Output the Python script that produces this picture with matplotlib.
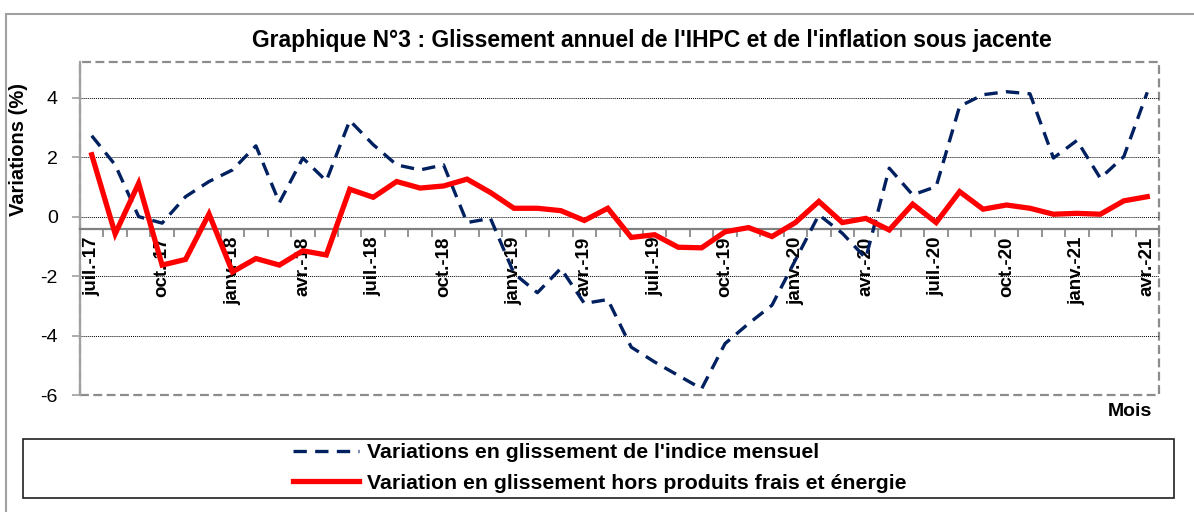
import matplotlib
matplotlib.use('Agg')
import matplotlib.pyplot as plt
from matplotlib.patches import Rectangle
import numpy as np

plt.rcParams['font.family'] = ['Liberation Sans', 'DejaVu Sans']

# Données (juil.-17 -> avr.-21)
mois = ['juil.-17', 'août-17', 'sept.-17', 'oct.-17', 'nov.-17', 'déc.-17',
        'janv.-18', 'févr.-18', 'mars-18', 'avr.-18', 'mai-18', 'juin-18',
        'juil.-18', 'août-18', 'sept.-18', 'oct.-18', 'nov.-18', 'déc.-18',
        'janv.-19', 'févr.-19', 'mars-19', 'avr.-19', 'mai-19', 'juin-19',
        'juil.-19', 'août-19', 'sept.-19', 'oct.-19', 'nov.-19', 'déc.-19',
        'janv.-20', 'févr.-20', 'mars-20', 'avr.-20', 'mai-20', 'juin-20',
        'juil.-20', 'août-20', 'sept.-20', 'oct.-20', 'nov.-20', 'déc.-20',
        'janv.-21', 'févr.-21', 'mars-21', 'avr.-21']

ihpc = [2.72, 1.74, 0.0, -0.22, 0.67, 1.18, 1.57, 2.38, 0.47, 1.97, 1.2, 3.23,
        2.42, 1.74, 1.57, 1.74, -0.2, -0.06, -1.91, -2.56, -1.74, -2.92, -2.79, -4.39,
        -4.89, -5.34, -5.79, -4.27, -3.6, -2.98, -1.46, 0.06, -0.56, -1.4, 1.63, 0.73,
        1.01, 3.71, 4.1, 4.2, 4.13, 1.97, 2.56, 1.29, 2.02, 4.18]

sous_jacente = [2.08, -0.58, 1.12, -1.63, -1.44, 0.09, -1.86, -1.41, -1.63, -1.15, -1.29, 0.92,
                0.65, 1.18, 0.96, 1.03, 1.26, 0.81, 0.28, 0.28, 0.2, -0.13, 0.28, -0.7,
                -0.61, -1.03, -1.05, -0.51, -0.37, -0.67, -0.2, 0.51, -0.2, -0.06, -0.45, 0.42,
                -0.2, 0.84, 0.25, 0.39, 0.28, 0.08, 0.11, 0.08, 0.53, 0.67]

yticks = [-6, -4, -2, 0, 2, 4]

W, H = 1194, 512
fig = plt.figure(figsize=(W / 100, H / 100), dpi=100)
fig.patch.set_facecolor('white')

# cadre extérieur (visible en haut et à gauche)
fig.patches.append(Rectangle((6 / W, -0.1), 1.2, 1 - 14 / H + 0.1, transform=fig.transFigure,
                             fill=False, edgecolor='#a0a0a0', linewidth=1.5))

ax = fig.add_axes([80 / W, 1 - 395 / H, (1159 - 80) / W, (395 - 62) / H])
x = np.arange(len(mois))

ax.plot(x, ihpc, color='#002060', linewidth=2.4, linestyle=(0, (4, 2.5)),
        label="Variations en glissement de l'indice mensuel", zorder=3)
ax.plot(x, sous_jacente, color='#ff0000', linewidth=3.8, solid_joinstyle='miter',
        label='Variation en glissement hors produits frais et énergie', zorder=4)

ax.set_xlim(-0.5, len(mois) - 0.5)
ax.set_ylim(-6, 5.2)

# grille
ax.set_yticks(yticks)
ax.set_yticklabels([str(v) for v in yticks], fontsize=14)
for v in yticks[1:]:
    ax.axhline(v, color='black', linewidth=0.7, linestyle=(0, (1, 1)), zorder=1)

# axe horizontal coupé à -0.4
ax.spines['bottom'].set_position(('data', -0.4))
for s in ['top', 'right']:
    ax.spines[s].set_visible(False)
ax.spines['bottom'].set_color('#808080')
ax.spines['bottom'].set_linewidth(1.6)
ax.spines['left'].set_color('#a0a0a0')
ax.spines['left'].set_linewidth(1.6)

ax.set_xticks(x[::3])
ax.set_xticklabels(mois[::3], rotation=90, fontsize=13.5, fontweight='bold', va='top')
ax.set_xticks(np.arange(-0.5, len(mois), 1), minor=True)
ax.tick_params(axis='x', which='major', length=0, pad=6)
ax.tick_params(axis='x', which='minor', length=6, width=1.2, color='#808080', direction='out')
ax.tick_params(axis='y', length=6, width=1.2, color='#a0a0a0', pad=10)

# bordure pointillée de la zone de tracé
ax.add_patch(Rectangle((0, 0), 1, 1, transform=ax.transAxes, fill=False,
                       edgecolor='#8c8c8c', linewidth=1.6, linestyle=(0, (4, 2)),
                       clip_on=False, zorder=0))

ax.set_ylabel('Variations (%)', fontsize=14.5, fontweight='bold', labelpad=4)
ax.yaxis.set_label_coords(-52 / (1159 - 80), (395 - 150) / (395 - 62))

fig.text(652 / W, 1 - 40 / H,
         "Graphique N°3 : Glissement annuel de l'IHPC et de l'inflation sous jacente",
         ha='center', va='center', fontsize=16.5, fontweight='bold')
fig.text(1152 / W, 1 - 412 / H, 'Mois', ha='right', va='center', fontsize=14, fontweight='bold')

# légende encadrée
fig.patches.append(Rectangle((22.7 / W, 1 - 498.3 / H), (1174 - 22.7) / W, 59 / H,
                             transform=fig.transFigure, fill=False, edgecolor='#202020',
                             linewidth=1.2))
fig.legend(loc='center', bbox_to_anchor=(600 / W, 1 - 468 / H), frameon=False,
           prop={'size': 15.3, 'weight': 'bold'}, handlelength=3.1, handletextpad=0.4,
           labelspacing=0.55, borderpad=0.2)

fig.savefig('out.png', dpi=100, facecolor='white')
